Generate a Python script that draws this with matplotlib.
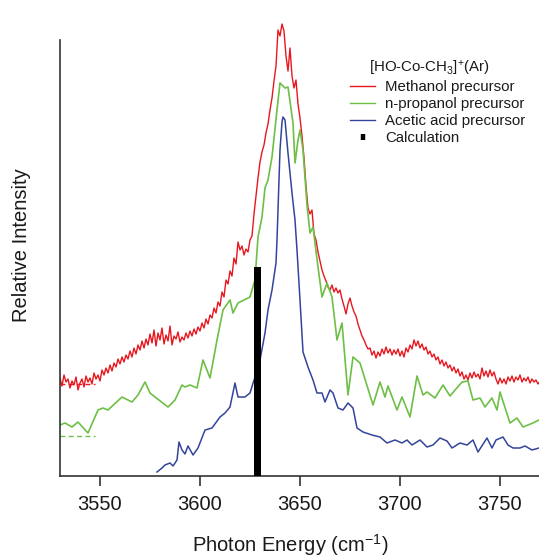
import numpy as np
import matplotlib
matplotlib.use("Agg")
import matplotlib.pyplot as plt
from matplotlib.lines import Line2D

plt.rcParams['font.family'] = ['Liberation Sans', 'DejaVu Sans']
plt.rcParams['mathtext.fontset'] = 'custom'
plt.rcParams['mathtext.rm'] = 'Liberation Sans'
plt.rcParams['mathtext.default'] = 'regular'

# ---- data (intensity in arbitrary units) ----
# methanol precursor, sampled every 1 cm-1 from 3530
red_start = 3530
red = [
    98, 90, 101, 94, 97, 88, 95, 91, 99, 86,
    93, 97, 89, 100, 94, 98, 92, 103, 97, 101,
    95, 106, 101, 108, 103, 111, 105, 113, 109, 117,
    112, 119, 114, 121, 117, 125, 119, 128, 122, 131,
    126, 135, 128, 137, 131, 142, 133, 146, 130, 143,
    136, 148, 132, 141, 135, 150, 131, 140, 137, 144,
    134, 139, 136, 143, 138, 145, 140, 147, 142, 149,
    145, 153, 148, 157, 152, 161, 158, 168, 163, 174,
    170, 184, 179, 196, 192, 205, 200, 218, 212, 234,
    226, 230, 221, 227, 224, 236, 240, 262, 280, 298,
    314, 324, 331, 343, 352, 366, 378, 395, 410, 446,
    440, 452, 445, 420, 405, 428, 400, 388, 396, 372,
    358, 340, 318, 290, 268, 262, 266, 242, 236, 224,
    215, 206, 200, 195, 189, 186, 191, 184, 188, 183,
    186, 177, 170, 162, 172, 178, 170, 164, 160, 152,
    146, 140, 136, 131, 127, 128, 121, 125, 118, 124,
    120, 127, 122, 129, 123, 127, 121, 126, 122, 127,
    120, 125, 119, 128, 124, 131, 127, 136, 130, 135,
    128, 132, 126, 129, 122, 125, 119, 122, 116, 119,
    112, 116, 110, 114, 108, 111, 105, 109, 103, 107,
    100, 104, 97, 101, 96, 103, 98, 104, 99, 102,
    97, 108, 100, 105, 99, 106, 100, 104, 97, 92,
    98, 93, 97, 92, 99, 95, 100, 94, 99, 96,
    101, 94, 98, 95, 99, 93, 97, 94, 96, 92,
    95,
]
red_energy = red_start + np.arange(len(red))

# n-propanol precursor
green_energy = [3530, 3532.5, 3536, 3539, 3544, 3549, 3551.5, 3554, 3561, 3566,
                3569, 3572.5, 3575, 3577.5, 3584, 3587.5, 3591, 3592.5, 3595, 3598.5,
                3601.5, 3605, 3608.5, 3611.5, 3615, 3616.5, 3619, 3625, 3627.5, 3629,
                3631, 3632.5, 3634, 3636, 3638.5, 3640, 3642.5, 3644, 3646.5, 3647.5,
                3649, 3650, 3651.5, 3653.5, 3655, 3656.5, 3659, 3661, 3663.5, 3666,
                3668.5, 3671, 3674, 3676.5, 3680, 3686.5, 3690, 3692.5, 3694, 3698.5,
                3701, 3705, 3708.5, 3711.5, 3713.5, 3717.5, 3721.5, 3725, 3731, 3734,
                3736.5, 3740, 3742.5, 3746, 3748.5, 3750, 3755, 3758.5, 3761.5, 3766.5,
                3769.5]
green = [51, 53, 49, 54, 43, 66, 68, 66, 79, 74,
         81, 94, 83, 79, 69, 76, 91, 89, 91, 88,
         116, 98, 136, 166, 176, 163, 173, 179, 196, 239,
         259, 288, 296, 319, 366, 393, 388, 389, 353, 313,
         336, 346, 326, 271, 243, 249, 209, 179, 193, 179,
         136, 153, 81, 119, 113, 71, 94, 79, 90, 66,
         79, 59, 100, 81, 84, 78, 91, 80, 94, 95,
         76, 78, 69, 78, 66, 84, 53, 58, 49, 53,
         56]

# acetic acid precursor
blue_energy = [3578.5, 3581, 3582.5, 3585, 3586.5, 3588.5, 3589.5, 3591, 3592.5, 3594,
               3596.5, 3599, 3602.5, 3606, 3610, 3612.5, 3615, 3617.5, 3619, 3622.5,
               3625, 3627.5, 3630, 3632.5, 3634, 3636, 3638, 3638.5, 3639.5, 3640,
               3641, 3641.5, 3642.5, 3644, 3646, 3647.5, 3648.5, 3650, 3651.5, 3654,
               3656.5, 3658.5, 3661, 3662.5, 3665, 3666.5, 3669, 3671.5, 3674, 3676.5,
               3678.5, 3681.5, 3686, 3690, 3693.5, 3697.5, 3701, 3703.5, 3706, 3710,
               3713.5, 3716.5, 3720, 3723.5, 3726, 3730, 3733.5, 3736.5, 3739, 3743.5,
               3746, 3748, 3751.5, 3754, 3756.5, 3760, 3762.5, 3766, 3769.5]
blue = [4, 8, 11, 13, 10, 16, 34, 26, 22, 30,
        21, 28, 46, 48, 59, 63, 69, 93, 79, 79,
        83, 99, 116, 143, 166, 186, 213, 236, 296, 326,
        354, 359, 356, 323, 283, 256, 226, 176, 124, 109,
        96, 83, 83, 74, 86, 83, 68, 66, 73, 68,
        48, 44, 41, 39, 33, 36, 33, 36, 31, 36,
        29, 31, 38, 35, 28, 33, 31, 36, 24, 38,
        28, 36, 39, 31, 28, 28, 30, 26, 28]

# dashed baselines (methanol, n-propanol)
base_energy = [3530, 3547.5]
red_base = 92
green_base = 40

# calculated transition
calc_energy = 3628.75
calc_height = 209

xticks = [3550, 3600, 3650, 3700, 3750]

red_c = '#e8171f'
green_c = '#6dbf45'
blue_c = '#34449a'
axis_c = '#333333'

W, H = 539, 558
fig = plt.figure(figsize=(W / 100, H / 100), dpi=100)
ax = fig.add_axes([60 / W, (H - 476) / H, (W - 60) / W, (476 - 10) / H])

ax.bar(calc_energy, calc_height, width=3.2, color='black', zorder=3)
ax.plot(red_energy, red, color=red_c, lw=1.0, zorder=2)
ax.plot(green_energy, green, color=green_c, lw=1.2, zorder=2)
ax.plot(blue_energy, blue, color=blue_c, lw=1.1, zorder=2)
ax.plot(base_energy, [red_base, red_base], color=red_c, lw=1.0, dashes=[3.5, 2.5])
ax.plot(base_energy, [green_base, green_base], color=green_c, lw=1.0, dashes=[3.5, 2.5])

ax.set_xlim(3530, 3769.5)
ax.set_ylim(0, 466)
ax.set_yticks([])
ax.set_xticks(xticks)
ax.tick_params(axis='x', direction='out', length=7, width=1.2, color=axis_c,
               labelsize=14.5, labelcolor='#1a1a1a', pad=6.5)
for s in ['top', 'right']:
    ax.spines[s].set_visible(False)
for s in ['left', 'bottom']:
    ax.spines[s].set_color(axis_c)
    ax.spines[s].set_linewidth(1.2)
ax.spines['left'].set_bounds(0, 436)

fig.text(290 / W, 1 - 545 / H, 'Photon Energy (cm$^{-1}$)', ha='center', va='center',
         fontsize=14.5, color='#1a1a1a')
fig.text(22 / W, 1 - 245 / H, 'Relative Intensity', rotation=90, ha='center', va='center',
         fontsize=14.5, color='#1a1a1a')

# legend
fig.text(429 / W, 1 - 68 / H, '[HO-Co-CH$_3$]$^{{+}}$(Ar)', ha='center', va='center',
         fontsize=10.8, color='#1a1a1a')
handles = [
    Line2D([], [], color=red_c, lw=1.0),
    Line2D([], [], color=green_c, lw=1.0),
    Line2D([], [], color=blue_c, lw=1.0),
    Line2D([], [], color='black', ls='none', marker='|', ms=5, mew=3.2),
]
labels = ['Methanol precursor', 'n-propanol precursor', 'Acetic acid precursor', 'Calculation']
fig.legend(handles, labels, loc='upper left', bbox_to_anchor=(350 / W, 1 - 80 / H),
           frameon=False, fontsize=10.8, handlelength=1.67, handletextpad=0.67,
           labelspacing=0.2, borderpad=0, borderaxespad=0, labelcolor='#1a1a1a')

fig.savefig('out.png', dpi=100)
